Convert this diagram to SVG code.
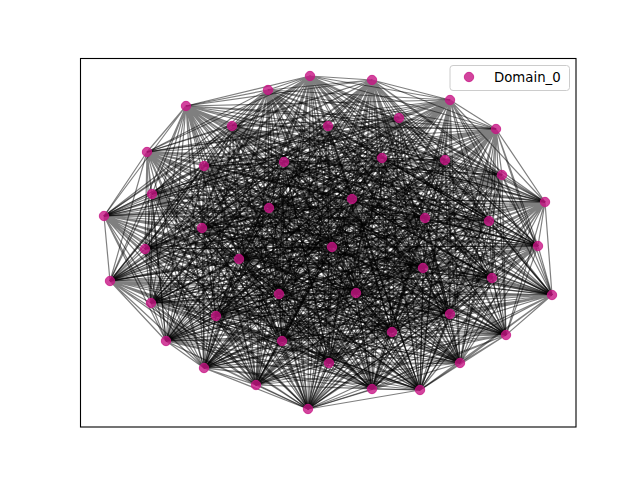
<svg xmlns="http://www.w3.org/2000/svg" width="640" height="480" viewBox="0 0 640 480">
<style>
.e{fill:none;stroke:#000;stroke-opacity:0.5;stroke-width:1.2;stroke-linejoin:round}
.n{fill:#c71585;fill-opacity:0.8;stroke:#c71585;stroke-opacity:0.8;stroke-width:1}
.t{font-family:"DejaVu Sans",sans-serif;font-size:13.3px;fill:#000}
</style>
<rect width="640" height="480" fill="#fff"/>
<g id="edges">
<path class="e" d="M372 80L310 76L268 90M450 100L310 76L186 106M399 118L310 76L232 126M328 126L310 76L496 129M147 152L310 76L382 158M445 160L310 76L284 162M204 166L310 76L502 175M152 194L310 76L352 199M545 202L310 76L269 208M104 216L310 76L425 218M489 221L310 76L202 228M332 247L310 76L145 249M538 246L310 76L239 259M423 268L310 76L110 281M492 278L310 76L552 295M279 294L310 76L356 293M151 303L310 76L450 314M216 316L310 76L506 335M392 332L310 76L166 341M282 341L310 76L329 363M460 363L310 76L204 368M256 385L310 76L372 389M420 390L310 76L308 409"/>
<path class="e" d="M268 90L372 80L450 100M186 106L372 80L399 118M232 126L372 80L328 126M496 129L372 80L147 152M382 158L372 80L445 160M284 162L372 80L204 166M502 175L372 80L152 194M352 199L372 80L545 202M269 208L372 80L104 216M425 218L372 80L489 221M202 228L372 80L332 247M145 249L372 80L538 246M239 259L372 80L423 268M110 281L372 80L492 278M552 295L372 80L279 294M356 293L372 80L151 303M450 314L372 80L216 316M506 335L372 80L392 332M166 341L372 80L282 341M329 363L372 80L460 363M204 368L372 80L256 385M372 389L372 80L420 390M308 409L372 80"/>
<path class="e" d="M450 100L268 90L186 106M399 118L268 90L232 126M328 126L268 90L496 129M147 152L268 90L382 158M445 160L268 90L284 162M204 166L268 90L502 175M152 194L268 90L352 199M545 202L268 90L269 208M104 216L268 90L425 218M489 221L268 90L202 228M332 247L268 90L145 249M538 246L268 90L239 259M423 268L268 90L110 281M492 278L268 90L552 295M279 294L268 90L356 293M151 303L268 90L450 314M216 316L268 90L506 335M392 332L268 90L166 341M282 341L268 90L329 363M460 363L268 90L204 368M256 385L268 90L372 389M420 390L268 90L308 409"/>
<path class="e" d="M186 106L450 100L399 118M232 126L450 100L328 126M496 129L450 100L147 152M382 158L450 100L445 160M284 162L450 100L204 166M502 175L450 100L152 194M352 199L450 100L545 202M269 208L450 100L104 216M425 218L450 100L489 221M202 228L450 100L332 247M145 249L450 100L538 246M239 259L450 100L423 268M110 281L450 100L492 278M552 295L450 100L279 294M356 293L450 100L151 303M450 314L450 100L216 316M506 335L450 100L392 332M166 341L450 100L282 341M329 363L450 100L460 363M204 368L450 100L256 385M372 389L450 100L420 390M308 409L450 100"/>
<path class="e" d="M399 118L186 106L232 126M328 126L186 106L496 129M147 152L186 106L382 158M445 160L186 106L284 162M204 166L186 106L502 175M152 194L186 106L352 199M545 202L186 106L269 208M104 216L186 106L425 218M489 221L186 106L202 228M332 247L186 106L145 249M538 246L186 106L239 259M423 268L186 106L110 281M492 278L186 106L552 295M279 294L186 106L356 293M151 303L186 106L450 314M216 316L186 106L506 335M392 332L186 106L166 341M282 341L186 106L329 363M460 363L186 106L204 368M256 385L186 106L372 389M420 390L186 106L308 409"/>
<path class="e" d="M232 126L399 118L328 126M496 129L399 118L147 152M382 158L399 118L445 160M284 162L399 118L204 166M502 175L399 118L152 194M352 199L399 118L545 202M269 208L399 118L104 216M425 218L399 118L489 221M202 228L399 118L332 247M145 249L399 118L538 246M239 259L399 118L423 268M110 281L399 118L492 278M552 295L399 118L279 294M356 293L399 118L151 303M450 314L399 118L216 316M506 335L399 118L392 332M166 341L399 118L282 341M329 363L399 118L460 363M204 368L399 118L256 385M372 389L399 118L420 390M308 409L399 118"/>
<path class="e" d="M328 126L232 126L496 129M147 152L232 126L382 158M445 160L232 126L284 162M204 166L232 126L502 175M152 194L232 126L352 199M545 202L232 126L269 208M104 216L232 126L425 218M489 221L232 126L202 228M332 247L232 126L145 249M538 246L232 126L239 259M423 268L232 126L110 281M492 278L232 126L552 295M279 294L232 126L356 293M151 303L232 126L450 314M216 316L232 126L506 335M392 332L232 126L166 341M282 341L232 126L329 363M460 363L232 126L204 368M256 385L232 126L372 389M420 390L232 126L308 409"/>
<path class="e" d="M496 129L328 126L147 152M382 158L328 126L445 160M284 162L328 126L204 166M502 175L328 126L152 194M352 199L328 126L545 202M269 208L328 126L104 216M425 218L328 126L489 221M202 228L328 126L332 247M145 249L328 126L538 246M239 259L328 126L423 268M110 281L328 126L492 278M552 295L328 126L279 294M356 293L328 126L151 303M450 314L328 126L216 316M506 335L328 126L392 332M166 341L328 126L282 341M329 363L328 126L460 363M204 368L328 126L256 385M372 389L328 126L420 390M308 409L328 126"/>
<path class="e" d="M147 152L496 129L382 158M445 160L496 129L284 162M204 166L496 129L502 175M152 194L496 129L352 199M545 202L496 129L269 208M104 216L496 129L425 218M489 221L496 129L202 228M332 247L496 129L145 249M538 246L496 129L239 259M423 268L496 129L110 281M492 278L496 129L552 295M279 294L496 129L356 293M151 303L496 129L450 314M216 316L496 129L506 335M392 332L496 129L166 341M282 341L496 129L329 363M460 363L496 129L204 368M256 385L496 129L372 389M420 390L496 129L308 409"/>
<path class="e" d="M382 158L147 152L445 160M284 162L147 152L204 166M502 175L147 152L152 194M352 199L147 152L545 202M269 208L147 152L104 216M425 218L147 152L489 221M202 228L147 152L332 247M145 249L147 152L538 246M239 259L147 152L423 268M110 281L147 152L492 278M552 295L147 152L279 294M356 293L147 152L151 303M450 314L147 152L216 316M506 335L147 152L392 332M166 341L147 152L282 341M329 363L147 152L460 363M204 368L147 152L256 385M372 389L147 152L420 390M308 409L147 152"/>
<path class="e" d="M445 160L382 158L284 162M204 166L382 158L502 175M152 194L382 158L352 199M545 202L382 158L269 208M104 216L382 158L425 218M489 221L382 158L202 228M332 247L382 158L145 249M538 246L382 158L239 259M423 268L382 158L110 281M492 278L382 158L552 295M279 294L382 158L356 293M151 303L382 158L450 314M216 316L382 158L506 335M392 332L382 158L166 341M282 341L382 158L329 363M460 363L382 158L204 368M256 385L382 158L372 389M420 390L382 158L308 409"/>
<path class="e" d="M284 162L445 160L204 166M502 175L445 160L152 194M352 199L445 160L545 202M269 208L445 160L104 216M425 218L445 160L489 221M202 228L445 160L332 247M145 249L445 160L538 246M239 259L445 160L423 268M110 281L445 160L492 278M552 295L445 160L279 294M356 293L445 160L151 303M450 314L445 160L216 316M506 335L445 160L392 332M166 341L445 160L282 341M329 363L445 160L460 363M204 368L445 160L256 385M372 389L445 160L420 390M308 409L445 160"/>
<path class="e" d="M204 166L284 162L502 175M152 194L284 162L352 199M545 202L284 162L269 208M104 216L284 162L425 218M489 221L284 162L202 228M332 247L284 162L145 249M538 246L284 162L239 259M423 268L284 162L110 281M492 278L284 162L552 295M279 294L284 162L356 293M151 303L284 162L450 314M216 316L284 162L506 335M392 332L284 162L166 341M282 341L284 162L329 363M460 363L284 162L204 368M256 385L284 162L372 389M420 390L284 162L308 409"/>
<path class="e" d="M502 175L204 166L152 194M352 199L204 166L545 202M269 208L204 166L104 216M425 218L204 166L489 221M202 228L204 166L332 247M145 249L204 166L538 246M239 259L204 166L423 268M110 281L204 166L492 278M552 295L204 166L279 294M356 293L204 166L151 303M450 314L204 166L216 316M506 335L204 166L392 332M166 341L204 166L282 341M329 363L204 166L460 363M204 368L204 166L256 385M372 389L204 166L420 390M308 409L204 166"/>
<path class="e" d="M152 194L502 175L352 199M545 202L502 175L269 208M104 216L502 175L425 218M489 221L502 175L202 228M332 247L502 175L145 249M538 246L502 175L239 259M423 268L502 175L110 281M492 278L502 175L552 295M279 294L502 175L356 293M151 303L502 175L450 314M216 316L502 175L506 335M392 332L502 175L166 341M282 341L502 175L329 363M460 363L502 175L204 368M256 385L502 175L372 389M420 390L502 175L308 409"/>
<path class="e" d="M352 199L152 194L545 202M269 208L152 194L104 216M425 218L152 194L489 221M202 228L152 194L332 247M145 249L152 194L538 246M239 259L152 194L423 268M110 281L152 194L492 278M552 295L152 194L279 294M356 293L152 194L151 303M450 314L152 194L216 316M506 335L152 194L392 332M166 341L152 194L282 341M329 363L152 194L460 363M204 368L152 194L256 385M372 389L152 194L420 390M308 409L152 194"/>
<path class="e" d="M545 202L352 199L269 208M104 216L352 199L425 218M489 221L352 199L202 228M332 247L352 199L145 249M538 246L352 199L239 259M423 268L352 199L110 281M492 278L352 199L552 295M279 294L352 199L356 293M151 303L352 199L450 314M216 316L352 199L506 335M392 332L352 199L166 341M282 341L352 199L329 363M460 363L352 199L204 368M256 385L352 199L372 389M420 390L352 199L308 409"/>
<path class="e" d="M269 208L545 202L104 216M425 218L545 202L489 221M202 228L545 202L332 247M145 249L545 202L538 246M239 259L545 202L423 268M110 281L545 202L492 278M552 295L545 202L279 294M356 293L545 202L151 303M450 314L545 202L216 316M506 335L545 202L392 332M166 341L545 202L282 341M329 363L545 202L460 363M204 368L545 202L256 385M372 389L545 202L420 390M308 409L545 202"/>
<path class="e" d="M104 216L269 208L425 218M489 221L269 208L202 228M332 247L269 208L145 249M538 246L269 208L239 259M423 268L269 208L110 281M492 278L269 208L552 295M279 294L269 208L356 293M151 303L269 208L450 314M216 316L269 208L506 335M392 332L269 208L166 341M282 341L269 208L329 363M460 363L269 208L204 368M256 385L269 208L372 389M420 390L269 208L308 409"/>
<path class="e" d="M425 218L104 216L489 221M202 228L104 216L332 247M145 249L104 216L538 246M239 259L104 216L423 268M110 281L104 216L492 278M552 295L104 216L279 294M356 293L104 216L151 303M450 314L104 216L216 316M506 335L104 216L392 332M166 341L104 216L282 341M329 363L104 216L460 363M204 368L104 216L256 385M372 389L104 216L420 390M308 409L104 216"/>
<path class="e" d="M489 221L425 218L202 228M332 247L425 218L145 249M538 246L425 218L239 259M423 268L425 218L110 281M492 278L425 218L552 295M279 294L425 218L356 293M151 303L425 218L450 314M216 316L425 218L506 335M392 332L425 218L166 341M282 341L425 218L329 363M460 363L425 218L204 368M256 385L425 218L372 389M420 390L425 218L308 409"/>
<path class="e" d="M202 228L489 221L332 247M145 249L489 221L538 246M239 259L489 221L423 268M110 281L489 221L492 278M552 295L489 221L279 294M356 293L489 221L151 303M450 314L489 221L216 316M506 335L489 221L392 332M166 341L489 221L282 341M329 363L489 221L460 363M204 368L489 221L256 385M372 389L489 221L420 390M308 409L489 221"/>
<path class="e" d="M332 247L202 228L145 249M538 246L202 228L239 259M423 268L202 228L110 281M492 278L202 228L552 295M279 294L202 228L356 293M151 303L202 228L450 314M216 316L202 228L506 335M392 332L202 228L166 341M282 341L202 228L329 363M460 363L202 228L204 368M256 385L202 228L372 389M420 390L202 228L308 409"/>
<path class="e" d="M145 249L332 247L538 246M239 259L332 247L423 268M110 281L332 247L492 278M552 295L332 247L279 294M356 293L332 247L151 303M450 314L332 247L216 316M506 335L332 247L392 332M166 341L332 247L282 341M329 363L332 247L460 363M204 368L332 247L256 385M372 389L332 247L420 390M308 409L332 247"/>
<path class="e" d="M538 246L145 249L239 259M423 268L145 249L110 281M492 278L145 249L552 295M279 294L145 249L356 293M151 303L145 249L450 314M216 316L145 249L506 335M392 332L145 249L166 341M282 341L145 249L329 363M460 363L145 249L204 368M256 385L145 249L372 389M420 390L145 249L308 409"/>
<path class="e" d="M239 259L538 246L423 268M110 281L538 246L492 278M552 295L538 246L279 294M356 293L538 246L151 303M450 314L538 246L216 316M506 335L538 246L392 332M166 341L538 246L282 341M329 363L538 246L460 363M204 368L538 246L256 385M372 389L538 246L420 390M308 409L538 246"/>
<path class="e" d="M423 268L239 259L110 281M492 278L239 259L552 295M279 294L239 259L356 293M151 303L239 259L450 314M216 316L239 259L506 335M392 332L239 259L166 341M282 341L239 259L329 363M460 363L239 259L204 368M256 385L239 259L372 389M420 390L239 259L308 409"/>
<path class="e" d="M110 281L423 268L492 278M552 295L423 268L279 294M356 293L423 268L151 303M450 314L423 268L216 316M506 335L423 268L392 332M166 341L423 268L282 341M329 363L423 268L460 363M204 368L423 268L256 385M372 389L423 268L420 390M308 409L423 268"/>
<path class="e" d="M492 278L110 281L552 295M279 294L110 281L356 293M151 303L110 281L450 314M216 316L110 281L506 335M392 332L110 281L166 341M282 341L110 281L329 363M460 363L110 281L204 368M256 385L110 281L372 389M420 390L110 281L308 409"/>
<path class="e" d="M552 295L492 278L279 294M356 293L492 278L151 303M450 314L492 278L216 316M506 335L492 278L392 332M166 341L492 278L282 341M329 363L492 278L460 363M204 368L492 278L256 385M372 389L492 278L420 390M308 409L492 278"/>
<path class="e" d="M279 294L552 295L356 293M151 303L552 295L450 314M216 316L552 295L506 335M392 332L552 295L166 341M282 341L552 295L329 363M460 363L552 295L204 368M256 385L552 295L372 389M420 390L552 295L308 409"/>
<path class="e" d="M356 293L279 294L151 303M450 314L279 294L216 316M506 335L279 294L392 332M166 341L279 294L282 341M329 363L279 294L460 363M204 368L279 294L256 385M372 389L279 294L420 390M308 409L279 294"/>
<path class="e" d="M151 303L356 293L450 314M216 316L356 293L506 335M392 332L356 293L166 341M282 341L356 293L329 363M460 363L356 293L204 368M256 385L356 293L372 389M420 390L356 293L308 409"/>
<path class="e" d="M450 314L151 303L216 316M506 335L151 303L392 332M166 341L151 303L282 341M329 363L151 303L460 363M204 368L151 303L256 385M372 389L151 303L420 390M308 409L151 303"/>
<path class="e" d="M216 316L450 314L506 335M392 332L450 314L166 341M282 341L450 314L329 363M460 363L450 314L204 368M256 385L450 314L372 389M420 390L450 314L308 409"/>
<path class="e" d="M506 335L216 316L392 332M166 341L216 316L282 341M329 363L216 316L460 363M204 368L216 316L256 385M372 389L216 316L420 390M308 409L216 316"/>
<path class="e" d="M392 332L506 335L166 341M282 341L506 335L329 363M460 363L506 335L204 368M256 385L506 335L372 389M420 390L506 335L308 409"/>
<path class="e" d="M166 341L392 332L282 341M329 363L392 332L460 363M204 368L392 332L256 385M372 389L392 332L420 390M308 409L392 332"/>
<path class="e" d="M282 341L166 341L329 363M460 363L166 341L204 368M256 385L166 341L372 389M420 390L166 341L308 409"/>
<path class="e" d="M329 363L282 341L460 363M204 368L282 341L256 385M372 389L282 341L420 390M308 409L282 341"/>
<path class="e" d="M460 363L329 363L204 368M256 385L329 363L372 389M420 390L329 363L308 409"/>
<path class="e" d="M204 368L460 363L256 385M372 389L460 363L420 390M308 409L460 363"/>
<path class="e" d="M256 385L204 368L372 389M420 390L204 368L308 409"/>
<path class="e" d="M372 389L256 385L420 390M308 409L256 385"/>
<path class="e" d="M420 390L372 389L308 409"/>
<path class="e" d="M308 409L420 390"/>
</g>
<g id="nodes">
<g id="n0"><circle class="n" cx="310" cy="76" r="4.7"/></g>
<g id="n1"><circle class="n" cx="372" cy="80" r="4.7"/></g>
<g id="n2"><circle class="n" cx="268" cy="90" r="4.7"/></g>
<g id="n3"><circle class="n" cx="450" cy="100" r="4.7"/></g>
<g id="n4"><circle class="n" cx="186" cy="106" r="4.7"/></g>
<g id="n5"><circle class="n" cx="399" cy="118" r="4.7"/></g>
<g id="n6"><circle class="n" cx="232" cy="126" r="4.7"/></g>
<g id="n7"><circle class="n" cx="328" cy="126" r="4.7"/></g>
<g id="n8"><circle class="n" cx="496" cy="129" r="4.7"/></g>
<g id="n9"><circle class="n" cx="147" cy="152" r="4.7"/></g>
<g id="n10"><circle class="n" cx="382" cy="158" r="4.7"/></g>
<g id="n11"><circle class="n" cx="445" cy="160" r="4.7"/></g>
<g id="n12"><circle class="n" cx="284" cy="162" r="4.7"/></g>
<g id="n13"><circle class="n" cx="204" cy="166" r="4.7"/></g>
<g id="n14"><circle class="n" cx="502" cy="175" r="4.7"/></g>
<g id="n15"><circle class="n" cx="152" cy="194" r="4.7"/></g>
<g id="n16"><circle class="n" cx="352" cy="199" r="4.7"/></g>
<g id="n17"><circle class="n" cx="545" cy="202" r="4.7"/></g>
<g id="n18"><circle class="n" cx="269" cy="208" r="4.7"/></g>
<g id="n19"><circle class="n" cx="104" cy="216" r="4.7"/></g>
<g id="n20"><circle class="n" cx="425" cy="218" r="4.7"/></g>
<g id="n21"><circle class="n" cx="489" cy="221" r="4.7"/></g>
<g id="n22"><circle class="n" cx="202" cy="228" r="4.7"/></g>
<g id="n23"><circle class="n" cx="332" cy="247" r="4.7"/></g>
<g id="n24"><circle class="n" cx="145" cy="249" r="4.7"/></g>
<g id="n25"><circle class="n" cx="538" cy="246" r="4.7"/></g>
<g id="n26"><circle class="n" cx="239" cy="259" r="4.7"/></g>
<g id="n27"><circle class="n" cx="423" cy="268" r="4.7"/></g>
<g id="n28"><circle class="n" cx="110" cy="281" r="4.7"/></g>
<g id="n29"><circle class="n" cx="492" cy="278" r="4.7"/></g>
<g id="n30"><circle class="n" cx="552" cy="295" r="4.7"/></g>
<g id="n31"><circle class="n" cx="279" cy="294" r="4.7"/></g>
<g id="n32"><circle class="n" cx="356" cy="293" r="4.7"/></g>
<g id="n33"><circle class="n" cx="151" cy="303" r="4.7"/></g>
<g id="n34"><circle class="n" cx="450" cy="314" r="4.7"/></g>
<g id="n35"><circle class="n" cx="216" cy="316" r="4.7"/></g>
<g id="n36"><circle class="n" cx="506" cy="335" r="4.7"/></g>
<g id="n37"><circle class="n" cx="392" cy="332" r="4.7"/></g>
<g id="n38"><circle class="n" cx="166" cy="341" r="4.7"/></g>
<g id="n39"><circle class="n" cx="282" cy="341" r="4.7"/></g>
<g id="n40"><circle class="n" cx="329" cy="363" r="4.7"/></g>
<g id="n41"><circle class="n" cx="460" cy="363" r="4.7"/></g>
<g id="n42"><circle class="n" cx="204" cy="368" r="4.7"/></g>
<g id="n43"><circle class="n" cx="256" cy="385" r="4.7"/></g>
<g id="n44"><circle class="n" cx="372" cy="389" r="4.7"/></g>
<g id="n45"><circle class="n" cx="420" cy="390" r="4.7"/></g>
<g id="n46"><circle class="n" cx="308" cy="409" r="4.7"/></g>
</g>
<rect x="80.5" y="58.5" width="495.5" height="368.5" fill="none" stroke="#000" stroke-width="1.1"/>
<g id="legend">
<rect x="450" y="65.5" width="119.5" height="25" rx="3" fill="#fff" fill-opacity="0.8" stroke="#ccc" stroke-width="1"/>
<circle class="n" cx="469" cy="77" r="4.7"/>
<text class="t" x="494" y="82">Domain_0</text>
</g>
</svg>
